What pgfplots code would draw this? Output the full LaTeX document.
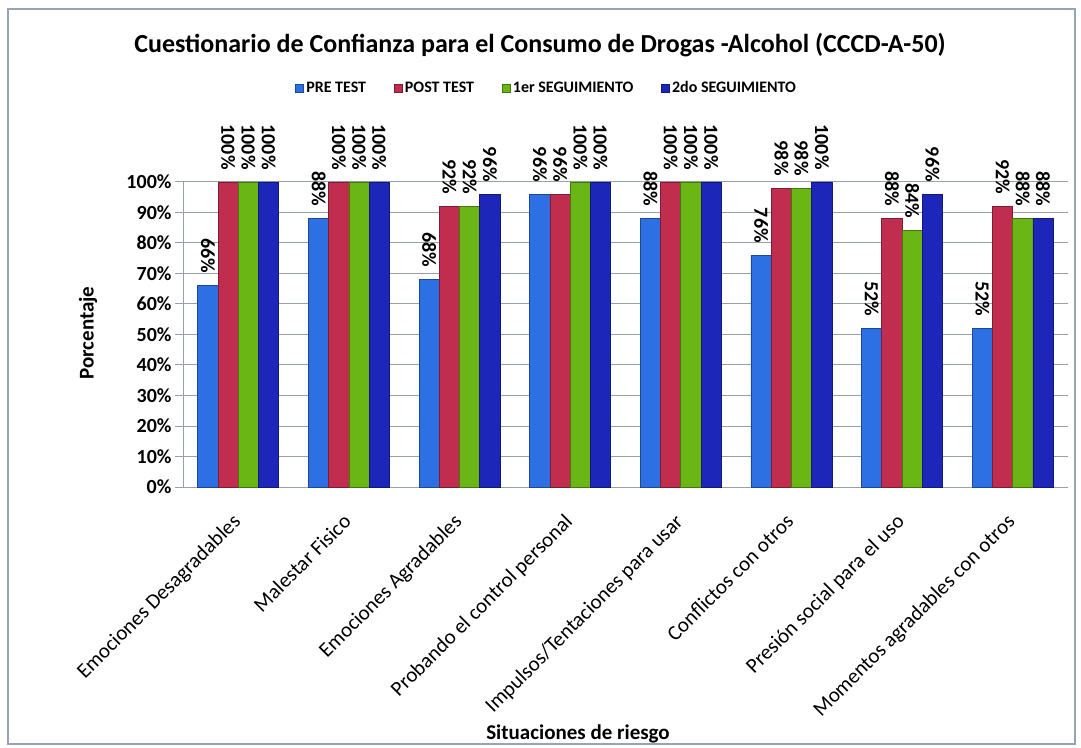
\documentclass[border=0pt]{standalone}
\usepackage{fontspec}
\setmainfont{Carlito}
\usepackage{pgfplots}
\pgfplotsset{compat=1.18}
\definecolor{c1}{RGB}{45,112,228}
\definecolor{c2}{RGB}{192,45,78}
\definecolor{c3}{RGB}{105,182,20}
\definecolor{c4}{RGB}{28,38,185}
\definecolor{gridc}{RGB}{150,160,172}
\definecolor{framec}{RGB}{150,165,180}
\begin{document}
\begin{tikzpicture}[x=1pt,y=1pt]
\useasboundingbox (0,0) rectangle (1081,747);
\draw[framec,line width=1.2pt] (8,3) rectangle (1075,738);
\node[font=\fontsize{26}{30}\selectfont\bfseries] at (540,702) {Cuestionario de Confianza para el Consumo de Drogas -Alcohol (CCCD-A-50)};
\node[font=\fontsize{21}{24}\selectfont\bfseries,rotate=90] at (88,414) {Porcentaje};
\node[font=\fontsize{21}{24}\selectfont\bfseries] at (578,13) {Situaciones de riesgo};
\begin{axis}[
  at={(183pt,260pt)}, anchor=south west,
  width=885pt, height=305pt, scale only axis,
  xmin=-0.5, xmax=7.5, ymin=0, ymax=100,
  ybar=0pt, bar width=0.183,
  axis lines=left, axis line style={-, gridc, line width=1pt},
  ytick={0,10,...,100},
  ymajorgrids, grid style={gridc, line width=1pt},
  tick align=outside, major tick length=8pt,
  ytick style={gridc, line width=1pt},
  xtick={0,...,7}, xtick style={draw=none},
  xticklabels={Emociones Desagradables, Malestar Fisico, Emociones Agradables, Probando el control personal, Impulsos/Tentaciones para usar, Conflictos con otros, Presión social para el uso, Momentos agradables con otros},
  xticklabel style={xshift=-7pt, rotate=45, anchor=north east, font=\fontsize{21}{24}\selectfont, inner sep=1pt},
  xticklabel shift=16pt,
  /pgf/number format/assume math mode=true,
  yticklabel={\pgfmathprintnumber{\tick}\%},
  yticklabel style={font=\fontsize{20}{24}\selectfont\bfseries},
  nodes near coords={\pgfmathprintnumber{\pgfplotspointmeta}\%},
  every node near coord/.append style={rotate=-90, anchor=east, font=\fontsize{20}{24}\selectfont\bfseries, inner xsep=12pt, inner ysep=0pt},
  legend columns=-1,
  legend style={at={(0.411,1)}, anchor=center, yshift=94pt, draw=none, fill=none,
    font=\fontsize{16}{19}\selectfont\bfseries, inner xsep=2pt,
    /tikz/every even column/.append style={column sep=26pt}},
  legend image code/.code={\path[#1] (0pt,-4pt) rectangle (8pt,4pt);},
  clip=false,
]
\addplot[draw=c1!65!black, line width=0.8pt, fill=c1] coordinates {(0,66) (1,88) (2,68) (3,96) (4,88) (5,76) (6,52) (7,52)};
\addplot[draw=c2!65!black, line width=0.8pt, fill=c2] coordinates {(0,100) (1,100) (2,92) (3,96) (4,100) (5,98) (6,88) (7,92)};
\addplot[draw=c3!65!black, line width=0.8pt, fill=c3] coordinates {(0,100) (1,100) (2,92) (3,100) (4,100) (5,98) (6,84) (7,88)};
\addplot[draw=c4!65!black, line width=0.8pt, fill=c4] coordinates {(0,100) (1,100) (2,96) (3,100) (4,100) (5,100) (6,96) (7,88)};
\legend{PRE TEST, POST TEST, 1er SEGUIMIENTO, 2do SEGUIMIENTO}
\end{axis}
\end{tikzpicture}
\end{document}
